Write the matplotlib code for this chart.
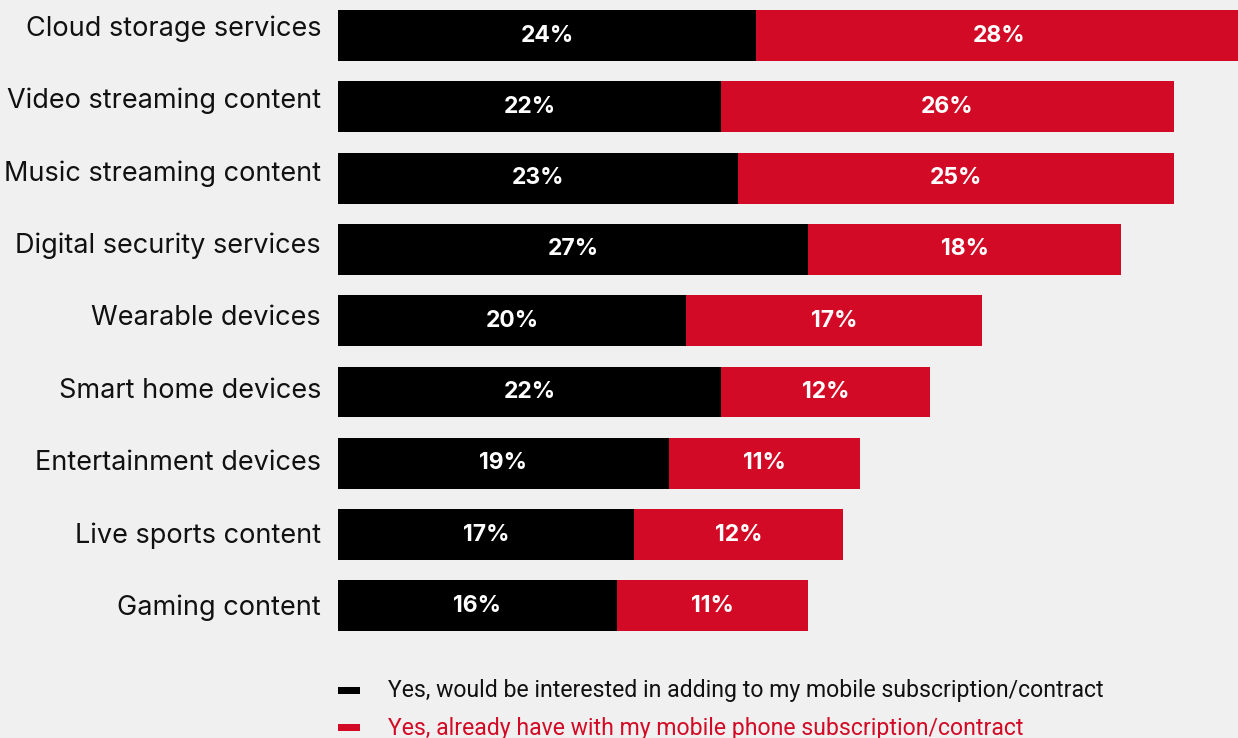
import matplotlib
matplotlib.use("Agg")
import matplotlib.pyplot as plt
from matplotlib.patches import Rectangle

categories = [
    "Cloud storage services",
    "Video streaming content",
    "Music streaming content",
    "Digital security services",
    "Wearable devices",
    "Smart home devices",
    "Entertainment devices",
    "Live sports content",
    "Gaming content",
]
interested = [24, 22, 23, 27, 20, 22, 19, 17, 16]
already_have = [28, 26, 25, 18, 17, 12, 11, 12, 11]
series_names = [
    "Yes, would be interested in adding to my mobile subscription/contract",
    "Yes, already have with my mobile phone subscription/contract",
]

BG = "#f0f0f0"
BLACK = "#000000"
RED = "#d30a25"

W, H = 1238, 738
fig = plt.figure(figsize=(W / 100, H / 100), dpi=100, facecolor=BG)
ax = fig.add_axes([338 / W, 0, 900 / W, 1])
ax.set_facecolor(BG)

pos = list(range(len(categories)))
bar_h = 0.715
ax.barh(pos, interested, height=bar_h, color=BLACK, linewidth=0)
ax.barh(pos, already_have, left=interested, height=bar_h, color=RED, linewidth=0)

for i, (a, b) in enumerate(zip(interested, already_have)):
    ax.text(a / 2, i, f"{a}%", ha="center", va="center", color="white",
            fontsize=16.5, fontweight="bold", family="Inter")
    ax.text(a + b / 2, i, f"{b}%", ha="center", va="center", color="white",
            fontsize=16.5, fontweight="bold", family="Inter")

# category labels, spaced slightly wider than the bars
for i, name in enumerate(categories):
    ax.annotate(name, xy=(0, i * 1.016 - 0.098), xytext=(-12.2, 0),
                textcoords="offset points", ha="right", va="center",
                fontsize=19.5, family="Inter", color="#111111",
                annotation_clip=False)

ax.set_xlim(0, 51.7)
ax.set_ylim(9.853, -0.498)
ax.set_xticks([])
ax.set_yticks([])
for s in ax.spines.values():
    s.set_visible(False)

# legend drawn by hand below the bars
leg_y = [691, 728]
leg_colors = [BLACK, RED]
for y, c, name in zip(leg_y, leg_colors, series_names):
    fig.patches.append(Rectangle((338 / W, 1 - (y + 3) / H), 22 / W, 7 / H,
                                 transform=fig.transFigure, color=c, linewidth=0))
    fig.text(388 / W, 1 - y / H, name, ha="left", va="center",
             fontsize=16.6, family="Roboto", color=c if c == RED else "#111111")

fig.savefig("out.png", dpi=100, facecolor=BG)
